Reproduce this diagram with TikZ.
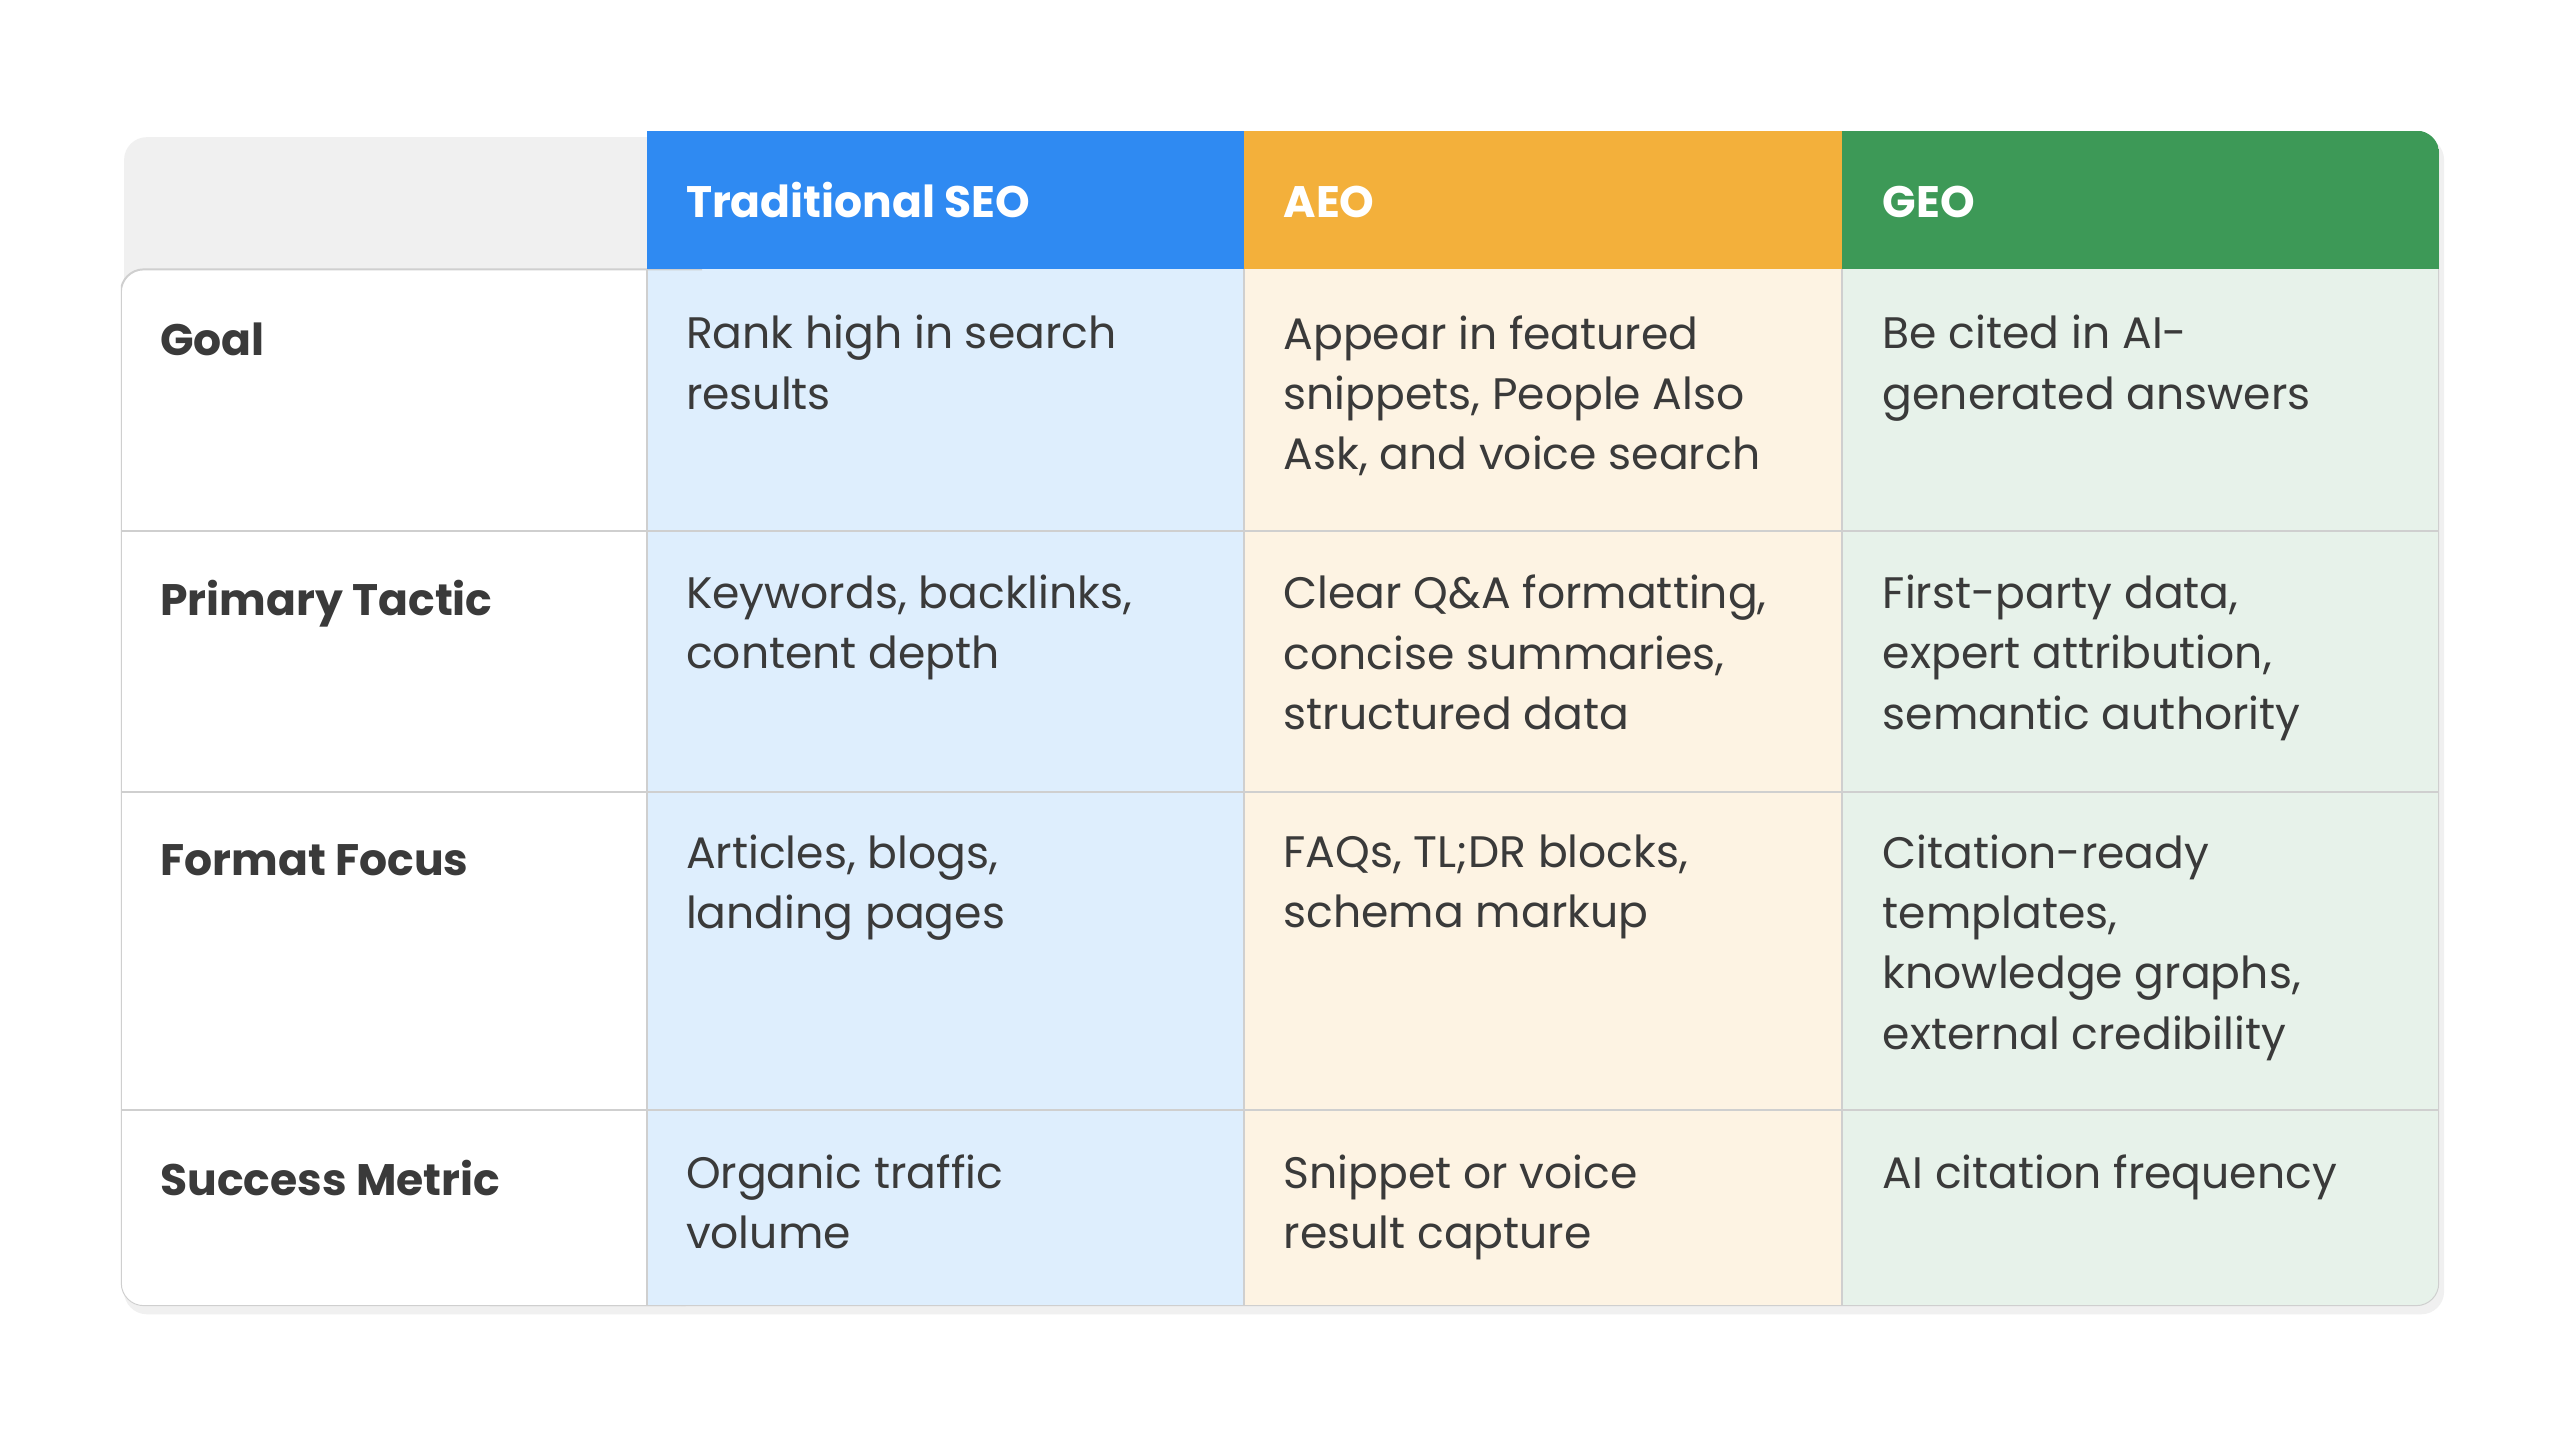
\documentclass[tikz,border=0pt]{standalone}
\usepackage{fontspec}
\setmainfont{Poppins}
\begin{document}
\begin{tikzpicture}[x=1pt,y=-1pt,
  cell/.style={anchor=base west,inner sep=0pt,align=left,font=\fontsize{27}{37}\selectfont,text=txt},
  rowhead/.style={cell,font=\fontsize{27}{37}\selectfont\bfseries},
  head/.style={cell,font=\fontsize{27}{37}\selectfont\bfseries,text=white},
  grid/.style={draw=lineg,line width=1.2pt}]
\definecolor{txt}{HTML}{3A3A3A}
\definecolor{lineg}{HTML}{CFCFCF}
\definecolor{hblue}{HTML}{2F8AF2}
\definecolor{horange}{HTML}{F3B03B}
\definecolor{hgreen}{HTML}{3D9957}
\definecolor{lblue}{HTML}{DEEEFD}
\definecolor{lorange}{HTML}{FDF3E3}
\definecolor{lgreen}{HTML}{E7F2EA}
\path[use as bounding box] (0,0) rectangle (1568,882);
\fill[white] (0,0) rectangle (1568,882);
% shadow
\fill[black!6,rounded corners=14] (76,84) rectangle (1497,805);
\begin{scope}
\clip[rounded corners=14] (74,80) rectangle (1494,800);
\fill[white,rounded corners=14] (74,165) rectangle (430,800);
\fill[lblue] (396,80) rectangle (762,800);
\fill[lorange] (762,80) rectangle (1128,800);
\fill[lgreen] (1128,80) rectangle (1494,800);
\draw[grid] (74,325) -- (1494,325);
\draw[grid] (74,485) -- (1494,485);
\draw[grid] (74,680) -- (1494,680);
\draw[grid] (396,165) -- (396,800);
\draw[grid] (762,165) -- (762,800);
\draw[grid] (1128,165) -- (1128,800);
\draw[grid,rounded corners=14] (300,800) -- (1494,800) -- (1494,60);
\draw[grid,rounded corners=14] (430,165) -- (74,165) -- (74,800) -- (420,800);
\fill[hblue] (396,80) rectangle (762,165);
\fill[horange] (762,80) rectangle (1128,165);
\fill[hgreen] (1128,80) rectangle (1494,165);
\end{scope}
\node[head] (h1) at (420,133) {Traditional SEO};
\node[head] (h2) at (786,133) {AEO};
\node[head] (h3) at (1153,133) {GEO};

\node[rowhead] (r1) at (98,218) {Goal};
\node[rowhead] (r2) at (98,377) {Primary Tactic};
\node[rowhead] (r3) at (98,536) {Format Focus};
\node[rowhead] (r4) at (98,732) {Success Metric};

\node[cell,anchor=north west] (a1) at (420,193) {Rank high in search\\results};
\node[cell,anchor=north west] (b1) at (786,193) {Appear in featured\\snippets, People Also\\Ask, and voice search};
\node[cell,anchor=north west] (c1) at (1153,193) {Be cited in AI-\\generated answers};
\node[cell,anchor=north west] (a2) at (420,352) {Keywords, backlinks,\\content depth};
\node[cell,anchor=north west] (b2) at (786,352) {Clear Q\&A formatting,\\concise summaries,\\structured data};
\node[cell,anchor=north west] (c2) at (1153,352) {First-party data,\\expert attribution,\\semantic authority};
\node[cell,anchor=north west] (a3) at (420,511) {Articles, blogs,\\landing pages};
\node[cell,anchor=north west] (b3) at (786,511) {FAQs, TL;DR blocks,\\schema markup};
\node[cell,anchor=north west] (c3) at (1153,511) {Citation-ready\\templates,\\knowledge graphs,\\external credibility};
\node[cell,anchor=north west] (a4) at (420,707) {Organic traffic\\volume};
\node[cell,anchor=north west] (b4) at (786,707) {Snippet or voice\\result capture};
\node[cell,anchor=north west] (c4) at (1153,707) {AI citation frequency};
\end{tikzpicture}
\end{document}
